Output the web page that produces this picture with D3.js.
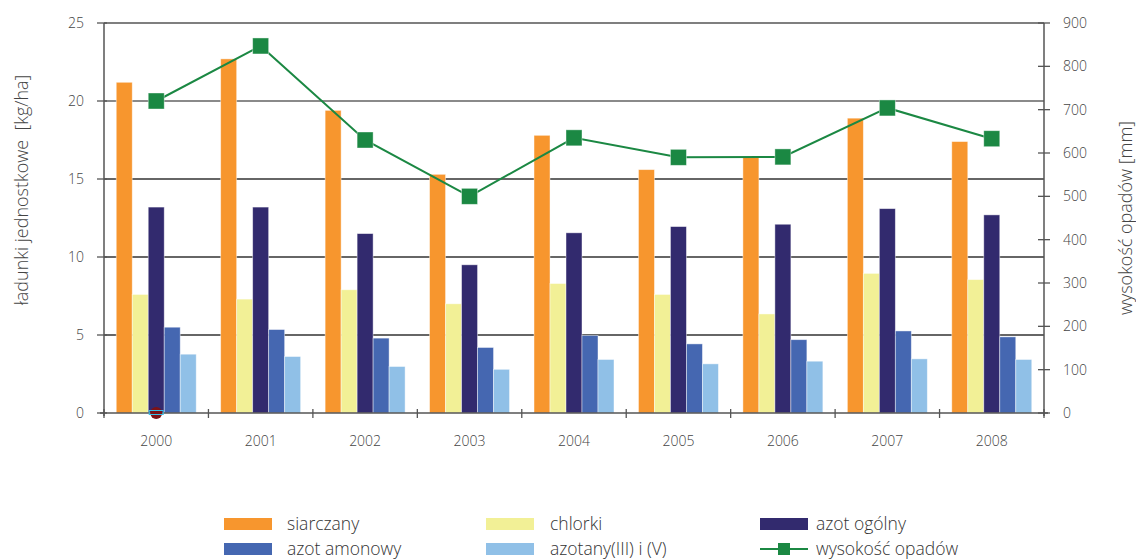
<!DOCTYPE html>
<html>
<head>
<meta charset="utf-8">
<script src="https://cdn.jsdelivr.net/npm/d3@7"></script>
<style>
  html, body { margin: 0; padding: 0; background: #fff; }
  svg { display: block; font-family: "Open Sans", "Noto Sans", sans-serif; }
  .tick-label { font-size: 14px; fill: #444; font-weight: 300; }
  .axis-title { font-size: 18px; fill: #444; font-weight: 300; white-space: pre; }
  .legend-label { font-size: 17.5px; fill: #333; font-weight: 300; }
</style>
</head>
<body>
<svg id="chart" width="1136" height="559"></svg>
<script>
// Years on the category axis
const years = ["2000", "2001", "2002", "2003", "2004", "2005", "2006", "2007", "2008"];

// Unit loads [kg/ha]
const siarczany      = [21.2, 22.7, 19.4, 15.3, 17.8, 15.6, 16.4, 18.9, 17.4];
const chlorki        = [7.6, 7.3, 7.9, 7.0, 8.3, 7.6, 6.35, 8.95, 8.55];
const azotOgolny     = [13.2, 13.2, 11.5, 9.5, 11.55, 11.95, 12.1, 13.1, 12.7];
const azotAmonowy    = [5.5, 5.35, 4.8, 4.2, 4.97, 4.43, 4.7, 5.26, 4.88];
const azotany        = [3.77, 3.62, 2.98, 2.8, 3.43, 3.15, 3.32, 3.47, 3.43];

// Precipitation [mm]
const opady          = [720, 847, 630, 500, 635, 590, 591, 704, 633];

// Axis ticks
const leftTicks  = [0, 5, 10, 15, 20, 25];
const rightTicks = [0, 100, 200, 300, 400, 500, 600, 700, 800, 900];

const seriesNames  = ["siarczany", "chlorki", "azot ogólny", "azot amonowy", "azotany(III) i (V)"];
const seriesValues = [siarczany, chlorki, azotOgolny, azotAmonowy, azotany];
const seriesColors = ["#f7962e", "#f2f096", "#322a6e", "#4567b1", "#90c0e7"];
const lineName  = "wysokość opadów";
const lineColor = "#1b8843";

const svg = d3.select("#chart");
const margin = { top: 23, right: 92, bottom: 146, left: 104 };
const W = 1136, H = 559;
const innerW = W - margin.left - margin.right;
const innerH = H - margin.top - margin.bottom;

const g = svg.append("g").attr("transform", `translate(${margin.left},${margin.top})`);

const x0 = d3.scaleBand().domain(years).range([0, innerW]).paddingInner(0).paddingOuter(0);
const x1 = d3.scaleBand().domain(seriesNames).range([0, x0.bandwidth()]).paddingInner(0).paddingOuter(0.765);
const yL = d3.scaleLinear().domain([0, 25]).range([innerH, 0]);
const yR = d3.scaleLinear().domain([0, 900]).range([innerH, 0]);

// Horizontal gridlines
g.selectAll("line.grid")
  .data(leftTicks.filter(t => t > 0 && t < 25))
  .join("line")
  .attr("class", "grid")
  .attr("x1", 0).attr("x2", innerW)
  .attr("y1", d => yL(d)).attr("y2", d => yL(d))
  .attr("stroke", d => d === 20 ? "#8a8a8a" : "#333")
  .attr("stroke-width", d => d === 20 ? 2 : 1.3);

// Top border
g.append("line")
  .attr("x1", 0).attr("x2", innerW)
  .attr("y1", yL(25)).attr("y2", yL(25))
  .attr("stroke", "#555").attr("stroke-width", 1.5);

// Bars
const rows = years.map((yr, i) => ({
  year: yr,
  vals: seriesNames.map((s, k) => ({ key: s, value: seriesValues[k][i], color: seriesColors[k] }))
}));

const groups = g.selectAll("g.year")
  .data(rows)
  .join("g")
  .attr("class", "year")
  .attr("transform", d => `translate(${x0(d.year)},0)`);

groups.selectAll("rect")
  .data(d => d.vals)
  .join("rect")
  .attr("x", d => x1(d.key))
  .attr("width", x1.bandwidth())
  .attr("y", d => yL(d.value))
  .attr("height", d => innerH - yL(d.value))
  .attr("fill", d => d.color)
  .attr("stroke", "rgba(255,255,255,0.55)")
  .attr("stroke-width", 0.8);

// Left axis
const leftAxis = g.append("g");
leftAxis.append("line")
  .attr("x1", 0).attr("x2", 0).attr("y1", yL(25)).attr("y2", innerH + 3)
  .attr("stroke", "#555").attr("stroke-width", 1.5);
leftAxis.selectAll("line.t")
  .data(leftTicks).join("line").attr("class", "t")
  .attr("x1", -7).attr("x2", 3)
  .attr("y1", d => yL(d)).attr("y2", d => yL(d))
  .attr("stroke", "#555").attr("stroke-width", 1.3);
leftAxis.selectAll("text")
  .data(leftTicks).join("text")
  .attr("class", "tick-label")
  .attr("x", -20).attr("y", d => yL(d))
  .attr("dy", "0.35em")
  .attr("text-anchor", "end")
  .text(d => d);

// Right axis
const rightAxis = g.append("g").attr("transform", `translate(${innerW},0)`);
rightAxis.append("line")
  .attr("x1", 0).attr("x2", 0).attr("y1", yR(900)).attr("y2", innerH + 3)
  .attr("stroke", "#555").attr("stroke-width", 1.5);
rightAxis.selectAll("line.t")
  .data(rightTicks).join("line").attr("class", "t")
  .attr("x1", -6).attr("x2", 6)
  .attr("y1", d => yR(d)).attr("y2", d => yR(d))
  .attr("stroke", "#555").attr("stroke-width", 1.3);
rightAxis.selectAll("text")
  .data(rightTicks).join("text")
  .attr("class", "tick-label")
  .attr("x", 19).attr("y", d => yR(d))
  .attr("dy", "0.35em")
  .attr("text-anchor", "start")
  .text(d => d);

// Bottom axis
const bottomAxis = g.append("g").attr("transform", `translate(0,${innerH})`);
bottomAxis.append("line")
  .attr("x1", -4).attr("x2", innerW + 4)
  .attr("stroke", "#555").attr("stroke-width", 1.5);
const boundaries = years.map(y => x0(y)).concat([innerW]);
bottomAxis.selectAll("line.t")
  .data(boundaries).join("line").attr("class", "t")
  .attr("x1", d => d).attr("x2", d => d)
  .attr("y1", -4).attr("y2", 5)
  .attr("stroke", "#555").attr("stroke-width", 1.3);
bottomAxis.selectAll("text")
  .data(years).join("text")
  .attr("class", "tick-label")
  .attr("x", d => x0(d) + x0.bandwidth() / 2)
  .attr("y", 33)
  .attr("text-anchor", "middle")
  .text(d => d);

// Small marker sitting on the baseline under 2000
const pin = g.append("g").attr("transform", `translate(${x0("2000") + x0.bandwidth() / 2},${innerH})`);
pin.append("circle").attr("r", 6).attr("fill", "#7d1216");
pin.append("rect").attr("x", -7).attr("y", -2.5).attr("width", 14).attr("height", 4)
  .attr("fill", "none").attr("stroke", "#39c0e8").attr("stroke-width", 1);

// Precipitation line
const lineGen = d3.line()
  .x((d, i) => x0(years[i]) + x0.bandwidth() / 2)
  .y(d => yR(d));
g.append("path")
  .datum(opady)
  .attr("d", lineGen)
  .attr("fill", "none")
  .attr("stroke", lineColor)
  .attr("stroke-width", 2);
g.selectAll("rect.mk")
  .data(opady).join("rect").attr("class", "mk")
  .attr("x", (d, i) => x0(years[i]) + x0.bandwidth() / 2 - 8)
  .attr("y", d => yR(d) - 8)
  .attr("width", 16).attr("height", 16)
  .attr("fill", lineColor)
  .attr("stroke", "rgba(255,255,255,0.5)").attr("stroke-width", 0.8);

// Axis titles
svg.append("text")
  .attr("class", "axis-title")
  .attr("transform", `translate(28,190) rotate(-90)`)
  .attr("text-anchor", "middle")
  .text("ładunki jednostkowe  [kg/ha]");
svg.append("text")
  .attr("class", "axis-title")
  .attr("transform", `translate(1132,218) rotate(-90)`)
  .attr("text-anchor", "middle")
  .text("wysokość opadów [mm]");

// Legend
const legendItems = [
  { name: seriesNames[0], color: seriesColors[0], type: "bar", col: 0, row: 0 },
  { name: seriesNames[1], color: seriesColors[1], type: "bar", col: 1, row: 0 },
  { name: seriesNames[2], color: seriesColors[2], type: "bar", col: 2, row: 0 },
  { name: seriesNames[3], color: seriesColors[3], type: "bar", col: 0, row: 1 },
  { name: seriesNames[4], color: seriesColors[4], type: "bar", col: 1, row: 1 },
  { name: lineName, color: lineColor, type: "line", col: 2, row: 1 }
];
const colX = [224, 486, 760];
const rowY = [524, 549];
const textX = [287, 550, 816];

const leg = svg.append("g");
legendItems.forEach(it => {
  const gx = colX[it.col], gy = rowY[it.row];
  if (it.type === "bar") {
    leg.append("rect").attr("x", gx).attr("y", gy - 6).attr("width", 48).attr("height", 12).attr("fill", it.color);
  } else {
    leg.append("line").attr("x1", gx).attr("x2", gx + 48).attr("y1", gy).attr("y2", gy)
      .attr("stroke", it.color).attr("stroke-width", 2);
    leg.append("rect").attr("x", gx + 24 - 6).attr("y", gy - 6).attr("width", 12).attr("height", 12).attr("fill", it.color);
  }
  leg.append("text").attr("class", "legend-label")
    .attr("x", textX[it.col]).attr("y", gy).attr("dy", "0.35em")
    .text(it.name);
});
</script>
</body>
</html>
